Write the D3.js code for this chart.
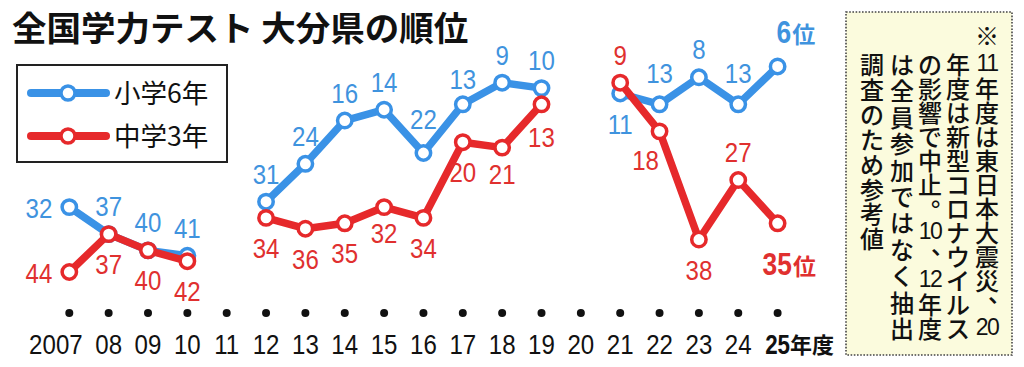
<!DOCTYPE html>
<html><head><meta charset="utf-8">
<script src="https://cdn.jsdelivr.net/npm/d3@7"></script>
<style>
html,body{margin:0;padding:0;background:#fff;}
svg{display:block;}
</style></head>
<body>
<svg id="chart" width="1024" height="367"></svg>
<script>
// ---------- data ----------
const titleText = "全国学力テスト 大分県の順位";
const years = [2007,2008,2009,2010,2011,2012,2013,2014,2015,2016,2017,2018,2019,2020,2021,2022,2023,2024,2025];
const elementary = [32,37,40,41,null,31,24,16,14,22,13,9,10,null,11,13,8,13,6];
const juniorHigh = [44,37,40,42,null,34,36,35,32,34,20,21,13,null,9,18,38,27,35];
const tickLabels = ["2007","08","09","10","11","12","13","14","15","16","17","18","19","20","21","22","23","24","25年度"];
const seriesNames = ["小学6年","中学3年"];
const rankSuffix = "位";
const noteColumns = ["※11年度は東日本大震災、20","年度は新型コロナウイルス","の影響で中止。10、12年度","は全員参加ではなく抽出","調査のため参考値"];

// ---------- styles ----------
const BLUE = "#3a92e6", RED = "#e6292b";
const BLUE_TXT = "#3f93de", RED_TXT = "#e0302f";
const NUM_FONT = "'Liberation Sans',Arial,sans-serif";
const JP_FONT = "'Noto Sans CJK JP','Noto Sans',sans-serif";
const SX = 0.86; // horizontal condensing of numerals

const svg = d3.select("#chart");
const x = d3.scaleLinear().domain([2007, 2025]).range([69.3, 777.6]);
const y = d3.scaleLinear().domain([0, 44]).range([34, 272]);

function numText(parent, tx, ty, str, opt) {
  const sx = opt.sx || SX;
  const t = parent.append("text")
    .attr("transform", `translate(${tx},${ty}) scale(${sx},1)`)
    .attr("text-anchor", opt.anchor || "middle")
    .attr("font-family", NUM_FONT)
    .attr("font-weight", opt.weight || 400)
    .attr("font-size", opt.size || 28)
    .attr("fill", opt.fill || "#111")
    .text(str);
  return t.node().getComputedTextLength() * sx;
}

// title
svg.append("text").attr("x", 12).attr("y", 41)
  .attr("font-family", JP_FONT).attr("font-weight", 700).attr("font-size", 34.5)
  .attr("fill", "#111").text(titleText);

// legend
const lg = svg.append("g");
lg.append("rect").attr("x", 17).attr("y", 65).attr("width", 210).attr("height", 97)
  .attr("fill", "#fff").attr("stroke", "#222").attr("stroke-width", 2);
[BLUE, RED].forEach((c, i) => {
  const ly = 93 + i * 43;
  lg.append("line").attr("x1", 31).attr("x2", 106).attr("y1", ly).attr("y2", ly)
    .attr("stroke", c).attr("stroke-width", 8).attr("stroke-linecap", "round");
  lg.append("circle").attr("cx", 68).attr("cy", ly).attr("r", 7)
    .attr("fill", "#fff").attr("stroke", c).attr("stroke-width", 3.5);
  lg.append("text").attr("x", 114).attr("y", ly + 10)
    .attr("font-family", JP_FONT).attr("font-weight", 400).attr("font-size", 26.5)
    .attr("fill", "#111").text(seriesNames[i]);
});

// x axis dots and labels
const axisG = svg.append("g");
axisG.selectAll("circle").data(years).join("circle")
  .attr("cx", d => x(d)).attr("cy", 313).attr("r", 4).attr("fill", "#111");
tickLabels.forEach((lab, i) => {
  const m = lab.match(/^(\d*?)(\d{2})(\D*)$/);
  const cx = x(years[i]);
  const isLast = i === tickLabels.length - 1;
  const w = numText(axisG, cx, 354, m[2], {weight: isLast ? 700 : 400, size: 28, sx: isLast ? 0.8 : SX});
  if (m[1]) numText(axisG, cx - w / 2, 354, m[1], {anchor: "end", size: 28});
  if (m[3]) {
    axisG.append("text").attr("x", cx + w / 2).attr("y", 353)
      .attr("font-family", JP_FONT).attr("font-weight", 700)
      .attr("font-size", 22).attr("fill", "#111").text(m[3]);
  }
});

// series
const series = [
  {values: elementary, color: BLUE, txt: BLUE_TXT, place: {2007: "left", 2021: "below"}, def: "above", tweak: {2016: -6, 2017: 3, 2022: -3, 2024: -3}},
  {values: juniorHigh, color: RED, txt: RED_TXT, place: {2007: "left", 2021: "above", 2024: "above", 2022: "belowLeft"}, def: "below", tweak: {2015: -4, 2018: -4, 2019: 3}}
];

series.forEach(s => {
  const pts = years.map((yr, i) => ({yr, v: s.values[i]}));
  const line = d3.line().defined(d => d.v != null).x(d => x(d.yr)).y(d => y(d.v));
  svg.append("path").datum(pts).attr("d", line)
    .attr("fill", "none").attr("stroke", s.color).attr("stroke-width", 7.5)
    .attr("stroke-linejoin", "round");
  svg.append("g").selectAll("circle").data(pts.filter(d => d.v != null)).join("circle")
    .attr("cx", d => x(d.yr)).attr("cy", d => y(d.v)).attr("r", 7.2)
    .attr("fill", "#fff").attr("stroke", s.color).attr("stroke-width", 3.5);
});

series.forEach(s => {
  const pts = years.map((yr, i) => ({yr, v: s.values[i]})).filter(d => d.v != null);
  const lastYr = years[years.length - 1];
  pts.forEach(d => {
    const px = x(d.yr), py = y(d.v);
    const g = svg.append("g");
    if (d.yr === lastYr) {
      const above = s.def === "above";
      const sx0 = above ? px - 1 : px - 15;
      const sy0 = above ? py - 23 : py + 52;
      const w = numText(g, sx0, sy0, String(d.v), {anchor: "start", weight: 700, size: 31, sx: 0.85, fill: s.txt});
      g.append("text").attr("x", sx0 + w + 1).attr("y", sy0)
        .attr("font-family", JP_FONT).attr("font-weight", 700).attr("font-size", 23)
        .attr("fill", s.txt).text(rankSuffix);
      return;
    }
    const p = s.place[d.yr] || s.def;
    const tw = s.tweak[d.yr] || 0;
    let tx = px, ty, anchor = "middle";
    if (p === "above") ty = py - 18 + tw;
    else if (p === "below") ty = py + 40 + tw;
    else if (p === "belowLeft") { tx = px - 14; ty = py + 39; }
    else if (p === "left") { tx = px - 17; ty = py + 11; anchor = "end"; }
    numText(g, tx, ty, String(d.v), {anchor, size: 28, fill: s.txt});
  });
});

// note box (vertical text set glyph by glyph)
const ng = svg.append("g");
ng.append("rect").attr("x", 846).attr("y", 12).attr("width", 166).attr("height", 343)
  .attr("fill", "#fbfbdd").attr("stroke", "#444").attr("stroke-width", 1.6)
  .attr("stroke-dasharray", "1.6,1.6");
const colX = [987, 958, 930, 902, 872];
const colStep = [24, 24, 24, 26.4, 24.9];
noteColumns.forEach((str, ci) => {
  const tokens = str.match(/\d+|./gu);
  const t = ng.append("text").attr("text-anchor", "middle").attr("dominant-baseline", "central")
    .attr("font-family", JP_FONT).attr("font-weight", 500).attr("font-size", 24).attr("fill", "#111");
  let cy = 63;
  tokens.forEach(tk => {
    let ty;
    if (tk === "※") { ty = 34; }
    else { ty = cy; cy += colStep[ci]; }
    const isNum = /^\d+$/.test(tk);
    const isPunct = tk === "、" || tk === "。";
    const sp = t.append("tspan")
      .attr("x", colX[ci] + (isPunct ? 13 : 0))
      .attr("y", ty + (isPunct ? -12 : 0))
      .text(tk);
    if (isNum) sp.attr("font-family", NUM_FONT).attr("font-size", 23).attr("letter-spacing", -1.5);
  });
});
</script>
</body></html>
